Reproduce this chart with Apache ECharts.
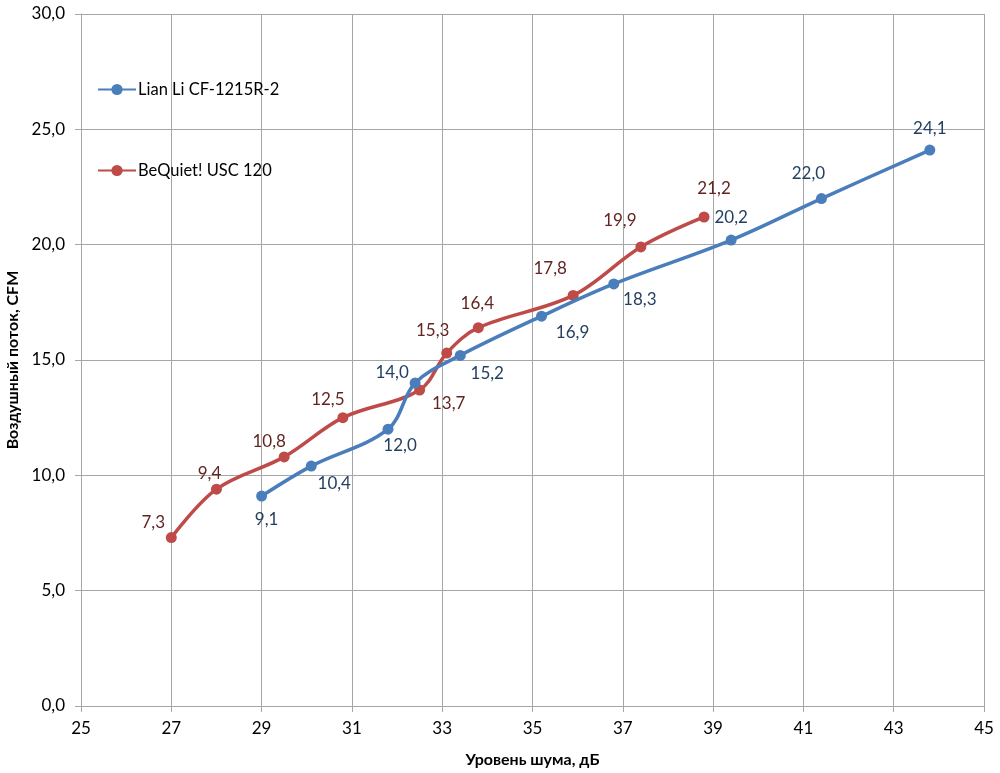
<!DOCTYPE html>
<html><head><meta charset="utf-8">
<script src="https://cdn.jsdelivr.net/npm/echarts@6/dist/echarts.min.js"></script>
<style>html,body{margin:0;padding:0;background:#fff}#c{width:1000px;height:773px}</style>
</head><body><div id="c"></div>
<script>
const seriesNames = ['Lian Li CF-1215R-2', 'BeQuiet! USC 120'];
const lianX = [29.0, 30.1, 31.8, 32.4, 33.4, 35.2, 36.8, 39.4, 41.4, 43.8];
const lianY = [9.1, 10.4, 12.0, 14.0, 15.2, 16.9, 18.3, 20.2, 22.0, 24.1];
const bqX = [27.0, 28.0, 29.5, 30.8, 32.5, 33.1, 33.8, 35.9, 37.4, 38.8];
const bqY = [7.3, 9.4, 10.8, 12.5, 13.7, 15.3, 16.4, 17.8, 19.9, 21.2];
const xTicks = [25, 27, 29, 31, 33, 35, 37, 39, 41, 43, 45];
const yTicks = [0, 5, 10, 15, 20, 25, 30];

// label offsets (styling, px)
const lianOff = [[5,23],[23,17],[12,16],[-23,-11],[27,18],[31,16],[26,16],[0,-23],[-13,-25],[0,-22]];
const bqOff = [[-18,-15],[-7,-16],[-15,-15],[-15,-18],[29,14],[-14,-23],[-1,-24],[-23,-27],[-21,-26],[10,-28]];

const FONT = 'Lato';
const fmt = v => v.toFixed(1).replace('.', ',');
function build(xs, ys, offs) {
  return xs.map((x, i) => ({
    value: [x, ys[i]],
    label: { offset: offs[i] }
  }));
}
const chart = echarts.init(document.getElementById('c'));
const gridColor = '#a6a6a6';
chart.setOption({
  animation: false,
  textStyle: { fontFamily: FONT },
  grid: { left: 81, right: 16, top: 14, bottom: 67, containLabel: false, outerBoundsMode: 'none' },
  legend: {
    orient: 'vertical', left: 92, top: 76, itemGap: 64,
    itemWidth: 38, itemHeight: 14,
    textStyle: { fontFamily: FONT, fontSize: 16.5, color: '#000', padding: [0,0,0,-3] },
    data: seriesNames
  },
  xAxis: {
    type: 'value', min: 25, max: 45, interval: 2,
    name: 'Уровень шума, дБ', nameLocation: 'middle', nameGap: 46,
    nameTextStyle: { fontFamily: FONT, fontSize: 16, fontWeight: 'bold', color: '#000' },
    axisLine: { show: true, lineStyle: { color: gridColor } },
    axisTick: { show: true, length: 6, lineStyle: { color: gridColor } },
    axisLabel: { fontFamily: FONT, fontSize: 17, color: '#000', margin: 14,
      formatter: v => xTicks.includes(v) ? String(v) : '' },
    splitLine: { show: true, lineStyle: { color: gridColor } }
  },
  yAxis: {
    type: 'value', min: 0, max: 30, interval: 5,
    name: 'Воздушный поток, CFM', nameLocation: 'middle', nameGap: 55,
    nameTextStyle: { fontFamily: FONT, fontSize: 16, fontWeight: 'bold', color: '#000' },
    axisLine: { show: true, lineStyle: { color: gridColor } },
    axisTick: { show: true, length: 6, lineStyle: { color: gridColor } },
    axisLabel: { fontFamily: FONT, fontSize: 17, color: '#000', margin: 16,
      formatter: v => yTicks.includes(v) ? fmt(v) : '' },
    splitLine: { show: true, lineStyle: { color: gridColor } }
  },
  series: [
    {
      name: seriesNames[0], type: 'line', smooth: 0.35,
      data: build(lianX, lianY, lianOff),
      symbol: 'circle', symbolSize: 11,
      lineStyle: { width: 3.5, color: '#4a7ebb' },
      itemStyle: { color: '#4a7ebb' },
      label: { show: true, position: 'inside', align: 'center', verticalAlign: 'middle',
        fontFamily: FONT, fontSize: 17, color: '#243f60',
        formatter: p => fmt(p.value[1]) },
      z: 3
    },
    {
      name: seriesNames[1], type: 'line', smooth: 0.35,
      data: build(bqX, bqY, bqOff),
      symbol: 'circle', symbolSize: 11,
      lineStyle: { width: 3.5, color: '#be4b48' },
      itemStyle: { color: '#be4b48' },
      label: { show: true, position: 'inside', align: 'center', verticalAlign: 'middle',
        fontFamily: FONT, fontSize: 17, color: '#632523',
        formatter: p => fmt(p.value[1]) },
      z: 2
    }
  ]
});
</script></body></html>
